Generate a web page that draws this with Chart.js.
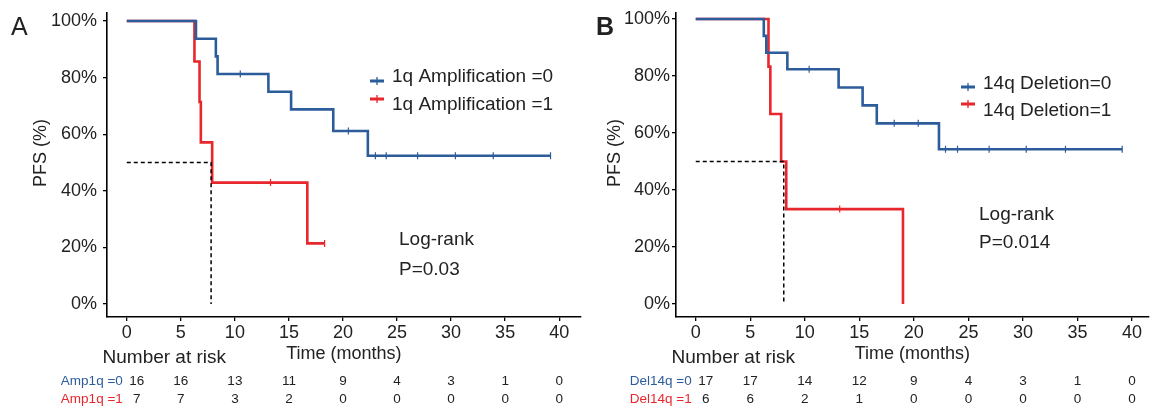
<!DOCTYPE html>
<html>
<head>
<meta charset="utf-8">
<script src="https://cdn.jsdelivr.net/npm/chart.js@4.4.1/dist/chart.umd.min.js"></script>
<style>
  body { margin: 0; background: #fff; }
  .panel { position: absolute; top: 0; }
</style>
</head>
<body>
<div class="panel" style="left:0"><canvas id="chartA" width="586" height="407"></canvas></div>
<div class="panel" style="left:586px"><canvas id="chartB" width="568" height="407"></canvas></div>
<script>
// ---- data ----
const timeTicks = [0, 5, 10, 15, 20, 25, 30, 35, 40];
const pfsTicks = [0, 20, 40, 60, 80, 100];

// panel A: 1q amplification
const amp0Times = [0, 6.4, 8.24, 8.4, 13.1, 15.2, 19.1, 22.3, 39.2];
const amp0Surv = [100, 93.75, 87.5, 81.25, 75.0, 68.75, 61.1, 52.4, 52.4];
const amp0Censor = [10.5, 20.5, 23.0, 24.0, 26.9, 30.4, 33.9, 39.2];
const amp1Times = [0, 6.26, 6.73, 6.85, 7.9, 16.7, 18.3];
const amp1Surv = [100, 85.7, 71.4, 57.1, 42.9, 21.4, 21.4];
const amp1Censor = [13.3, 18.3];
const amp0Risk = [16, 16, 13, 11, 9, 4, 3, 1, 0];
const amp1Risk = [7, 7, 3, 2, 0, 0, 0, 0, 0];
const medianA = 7.8;

// panel B: 14q deletion
const del0Times = [0, 6.24, 6.47, 8.4, 13.1, 15.3, 16.6, 22.3, 39.1];
const del0Surv = [100, 94.1, 88.2, 82.4, 76.0, 69.7, 63.4, 54.3, 54.3];
const del0Censor = [10.4, 18.2, 20.4, 22.9, 24.0, 26.9, 30.3, 33.9, 39.1];
const del1Times = [0, 6.67, 6.84, 7.83, 8.3, 19.0];
const del1Surv = [100, 83.3, 66.7, 50.0, 33.3, 0];
const del1Censor = [13.2];
const del0Risk = [17, 17, 14, 12, 9, 4, 3, 1, 0];
const del1Risk = [6, 6, 2, 1, 0, 0, 0, 0, 0];
const medianB = 8.07;

const BLUE = '#2C5C9A';
const RED = '#E8272D';
const FONT = '"Liberation Sans", Arial, sans-serif';
const TEXT = '#222';

// survival value of a step curve at time t
function survAt(times, surv, t) {
    let s = surv[0];
    for (let i = 0; i < times.length; i++) if (times[i] <= t) s = surv[i];
    return s;
}
const toPoints = (xs, ys) => xs.map((x, i) => ({ x: x, y: ys[i] }));
const censorPoints = (times, surv, cens) => cens.map(t => ({ x: t, y: survAt(times, surv, t) }));

// texts, legend, risk table
const annotPlugin = {
    id: 'annot',
    afterDraw(chart, args, o) {
        const ctx = chart.ctx;
        const xs = chart.scales.x;
        const area = chart.chartArea;
        ctx.save();
        ctx.fillStyle = TEXT;
        ctx.textBaseline = 'middle';

        // panel letter
        ctx.font = o.letterWeight + ' 25px ' + FONT;
        ctx.textAlign = 'left';
        ctx.fillText(o.letter, o.letterX, 28);

        // y title
        ctx.font = '18px ' + FONT;
        ctx.save();
        ctx.translate(o.yTitleX, 153);
        ctx.rotate(-Math.PI / 2);
        ctx.textAlign = 'center';
        ctx.fillText('PFS (%)', 0, 0);
        ctx.restore();

        // x title
        ctx.textAlign = 'center';
        ctx.fillText('Time (months)', (area.left + area.right) / 2, 354);

        // legend
        ctx.font = '19px ' + FONT;
        o.legend.forEach(row => {
            ctx.strokeStyle = row.color;
            ctx.lineWidth = 3;
            ctx.beginPath();
            ctx.moveTo(o.legendX, row.markY);
            ctx.lineTo(o.legendX + 14, row.markY);
            ctx.stroke();
            ctx.lineWidth = 1.3;
            ctx.beginPath();
            ctx.moveTo(o.legendX + 7, row.markY - 4);
            ctx.lineTo(o.legendX + 7, row.markY + 4);
            ctx.stroke();
            ctx.fillStyle = TEXT;
            ctx.textAlign = 'left';
            ctx.fillText(row.text, o.legendX + 22, row.textY);
        });

        // log-rank
        ctx.textAlign = 'left';
        ctx.fillText('Log-rank', o.logX, o.logY1);
        ctx.fillText(o.pText, o.logX, o.logY2);

        // risk table
        const x0 = xs.getPixelForValue(0);
        ctx.textAlign = 'center';
        ctx.fillText('Number at risk', x0 + 37.5, 358);
        ctx.font = '13.5px ' + FONT;
        o.risk.forEach(row => {
            ctx.fillStyle = row.color;
            ctx.textAlign = 'right';
            ctx.fillText(row.label, x0 - 4, row.y);
            ctx.fillStyle = TEXT;
            ctx.textAlign = 'center';
            row.values.forEach((v, i) => {
                let px = xs.getPixelForValue(timeTicks[i]);
                if (i === 0) px += 10;
                ctx.fillText(String(v), px, row.y);
            });
        });
        ctx.restore();
    }
};

function buildChart(id, p) {
    const curve = (times, surv, color) => ({
        type: 'line', data: toPoints(times, surv), borderColor: color, borderWidth: 2.6,
        stepped: true, pointRadius: 0, fill: false
    });
    const ticksMarks = (times, surv, cens, color) => ({
        type: 'scatter', data: censorPoints(times, surv, cens), pointStyle: 'line', rotation: 90,
        pointRadius: 3.5, borderColor: color, borderWidth: 1.2, pointBorderColor: color
    });
    new Chart(document.getElementById(id), {
        type: 'line',
        data: {
            datasets: [
                {
                    type: 'line', data: [{ x: 0, y: 50 }, { x: p.median, y: 50 }, { x: p.median, y: 0 }],
                    borderColor: '#000', borderWidth: 1.5, borderDash: [4, 3], pointRadius: 0, fill: false
                },
                curve(p.t0, p.s0, BLUE),
                curve(p.t1, p.s1, RED),
                ticksMarks(p.t0, p.s0, p.c0, BLUE),
                ticksMarks(p.t1, p.s1, p.c1, RED)
            ]
        },
        options: {
            responsive: false,
            animation: false,
            layout: { padding: { top: 12.5, bottom: 0, left: 0, right: 0 } },
            plugins: { legend: { display: false }, tooltip: { enabled: false }, annot: p.annot },
            scales: {
                x: {
                    type: 'linear', min: p.xMin, max: p.xMax,
                    afterBuildTicks: s => { s.ticks = timeTicks.map(v => ({ value: v })); },
                    afterFit: s => { s.height = 90; s.paddingLeft = 0; s.paddingRight = 0; },
                    border: { color: '#000', width: 1.6 },
                    grid: { drawOnChartArea: false, drawTicks: true, tickLength: 4, color: '#000', lineWidth: 1.3 },
                    ticks: { font: { family: FONT, size: 18 }, color: TEXT, padding: 1, maxRotation: 0 }
                },
                y: {
                    type: 'linear', min: p.yMin, max: p.yMax,
                    afterBuildTicks: s => { s.ticks = pfsTicks.map(v => ({ value: v })); },
                    afterFit: s => { s.width = p.yAxisWidth; s.paddingTop = 0; s.paddingBottom = 0; },
                    border: { color: '#000', width: 1.6 },
                    grid: { drawOnChartArea: false, drawTicks: true, tickLength: 4, color: '#000', lineWidth: 1.3 },
                    ticks: { font: { family: FONT, size: 18 }, color: TEXT, padding: p.yPad, callback: v => v + '%' }
                }
            }
        },
        plugins: [annotPlugin]
    });
}

buildChart('chartA', {
    t0: amp0Times, s0: amp0Surv, c0: amp0Censor,
    t1: amp1Times, s1: amp1Surv, c1: amp1Censor,
    median: medianA,
    xMin: -1.83, xMax: 42.0, yMin: -4.6, yMax: 103, yAxisWidth: 107, yPad: 6,
    annot: {
        letter: 'A', letterX: 11, letterWeight: 'normal', yTitleX: 41,
        legendX: 370,
        legend: [
            { text: '1q Amplification =0', color: BLUE, textY: 77, markY: 81 },
            { text: '1q Amplification =1', color: RED, textY: 105, markY: 99 }
        ],
        logX: 399, logY1: 240, logY2: 270, pText: 'P=0.03',
        risk: [
            { label: 'Amp1q =0', color: BLUE, values: amp0Risk, y: 381 },
            { label: 'Amp1q =1', color: RED, values: amp1Risk, y: 399 }
        ]
    }
});

buildChart('chartB', {
    t0: del0Times, s0: del0Surv, c0: del0Censor,
    t1: del1Times, s1: del1Surv, c1: del1Censor,
    median: medianB,
    xMin: -1.81, xMax: 41.54, yMin: -4.56, yMax: 102.3, yAxisWidth: 90, yPad: 2,
    annot: {
        letter: 'B', letterX: 10, letterWeight: 'bold', yTitleX: 29,
        legendX: 375,
        legend: [
            { text: '14q Deletion=0', color: BLUE, textY: 83.5, markY: 87 },
            { text: '14q Deletion=1', color: RED, textY: 111, markY: 104 }
        ],
        logX: 393, logY1: 215, logY2: 243, pText: 'P=0.014',
        risk: [
            { label: 'Del14q =0', color: BLUE, values: del0Risk, y: 381 },
            { label: 'Del14q =1', color: RED, values: del1Risk, y: 399 }
        ]
    }
});
</script>
</body>
</html>
